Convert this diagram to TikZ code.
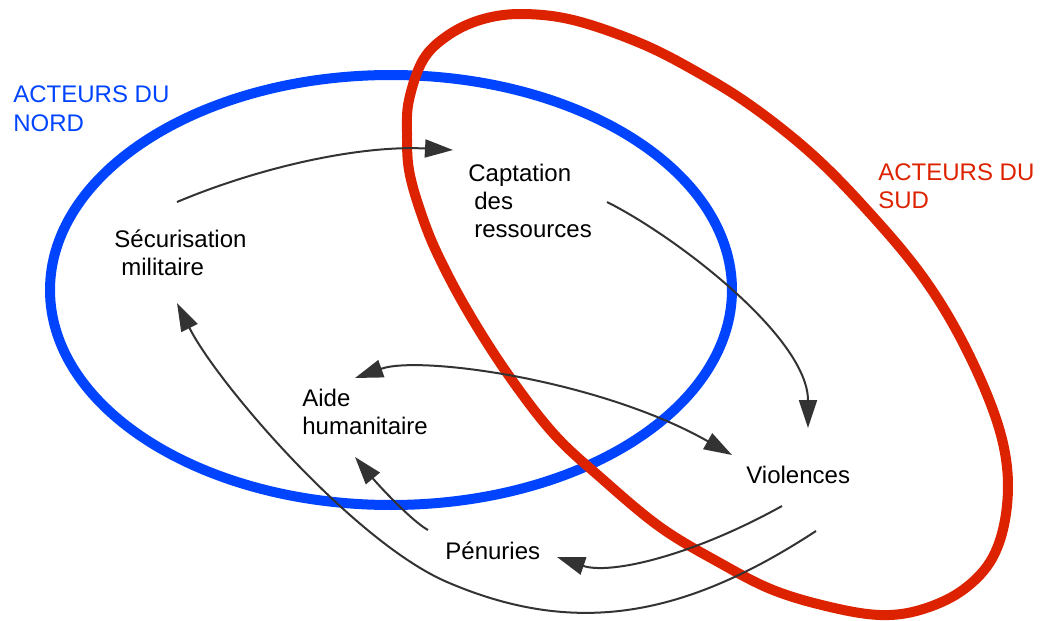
\documentclass[tikz,border=0pt]{standalone}
\usepackage{fontspec}
\setmainfont{Liberation Sans}
\usepackage{xcolor}
\usetikzlibrary{arrows.meta}
\definecolor{nordblue}{HTML}{0044FF}
\definecolor{sudred}{HTML}{DD2200}
\definecolor{linkgray}{HTML}{333333}
\tikzstyle{txt} = [anchor=base west, inner sep=0pt, align=left, font=\fontsize{12}{14}\selectfont]
\tikzstyle{ring} = [line width=5pt, line join=round]
\tikzstyle{link} = [draw=linkgray, line width=1pt, -{Triangle[length=14pt, width=9pt]}]

\begin{document}
\begin{tikzpicture}[x=0.5pt, y=-0.5pt]
        \useasboundingbox (0,0) rectangle (1041,621);

        % Draw the two groups of actors
        \draw[ring, nordblue] (391,290) ellipse [x radius=170.5pt, y radius=107.5pt];
        \draw[ring, sudred] plot[smooth cycle, tension=0.6] coordinates {
            (520,14) (573,20) (640,43) (697,72) (753,107) (813,155) (867,210)
            (920,273) (960,337) (993,410) (1007,467) (1005,520) (990,562)
            (960,592) (920,610) (880,615) (830,607) (773,590) (720,563)
            (660,527) (600,477) (553,433) (507,373) (467,310) (437,253)
            (420,210) (409,170) (407,133) (409,100) (423,60) (447,36) (480,20)};

        % Last line of each node sits on its base
        \node[txt, nordblue] (nord) at (13,131) {ACTEURS DU\\NORD};
        \node[txt, sudred] (sud) at (878,208) {ACTEURS DU\\SUD};

        \node[txt] (secu) at (114,275) {Sécurisation\\\hspace*{3.5pt}militaire};
        \node[txt] (capt) at (468,237) {Captation\\\hspace*{3pt}des\\\hspace*{3pt}ressources};
        \node[txt] (aide) at (302,434) {Aide\\humanitaire};
        \node[txt] (viol) at (746,483) {Violences};
        \node[txt] (penu) at (445,559) {Pénuries};

        % Links between the nodes
        \draw[link] ([shift={(63,-73)}]secu.base west) .. controls +(83,-35) and +(-93,-5)
            .. ([shift={(-15,-87)}]capt.base west);
        \draw[link] ([shift={(139,-35)}]capt.base west) .. controls +(70,35) and +(0,-90)
            .. ([shift={(62,-55)}]viol.base west);
        \draw[link, {Triangle[length=14pt, width=9pt]}-{Triangle[length=14pt, width=9pt]}]
            ([shift={(53,-56)}]aide.base west) .. controls +(65,-23) and +(-132,-75)
            .. ([shift={(-14,-28)}]viol.base west);
        \draw[link] ([shift={(-17,-29)}]penu.base west) .. controls +(-15,-8) and +(25,30)
            .. ([shift={(53,23)}]aide.base west);
        \draw[link] ([shift={(36,23)}]viol.base west) .. controls +(-90,50) and +(53,18)
            .. ([shift={(112,-2)}]penu.base west);
        \draw[link] ([shift={(70,48)}]viol.base west) .. controls +(-130,85) and +(130,56)
            .. (447,582) .. controls +(-93,-40) and +(40,80)
            .. ([shift={(63,28)}]secu.base west);
\end{tikzpicture}
\end{document}
